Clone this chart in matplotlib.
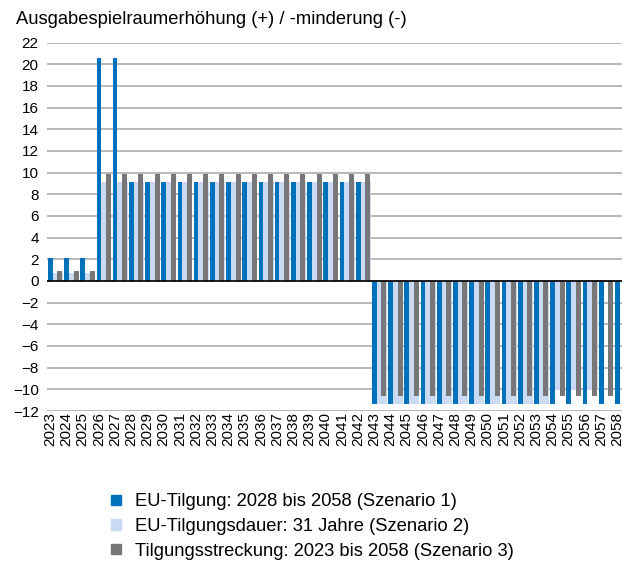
import numpy as np
import matplotlib
matplotlib.use("Agg")
import matplotlib.pyplot as plt
from matplotlib.patches import Patch

plt.rcParams['font.family'] = ['Liberation Sans', 'DejaVu Sans']

# data
years = list(range(2023, 2059))
szenario1 = [2.1] * 3 + [20.6] * 2 + [9.1] * 15 + [-11.4] * 16
szenario2 = [0.7] * 3 + [9.1] * 2 + [9.1] * 15 + [-11.4] * 11 + [-10.1] * 3 + [0.0] * 2
szenario3 = [0.9] * 3 + [9.9] * 2 + [9.9] * 15 + [-10.6] * 16
labels = ['EU-Tilgung: 2028 bis 2058 (Szenario 1)',
          'EU-Tilgungsdauer: 31 Jahre (Szenario 2)',
          'Tilgungsstreckung: 2023 bis 2058 (Szenario 3)']
colors = ['#0072BB', '#CBDAF3', '#777777']

fig = plt.figure(figsize=(6.22, 5.61), dpi=100)
ax = fig.add_axes([47 / 622, (561 - 411) / 561, 575 / 622, (411 - 42.5) / 561])

x = np.arange(len(years))

# gridlines
for t in range(-12, 23, 2):
    ax.axhline(t, color='#A6A6A6', lw=1.1, zorder=0)

# light blue sits behind, a bit wider than the others
ax.bar(x + 0.15, szenario2, width=0.63, align='edge', color=colors[1], zorder=1)
ax.bar(x - 0.14, szenario1, width=0.29, align='edge', color=colors[0], zorder=2)
ax.bar(x + 0.44, szenario3, width=0.31, align='edge', color=colors[2], zorder=2)
ax.axhline(0, color='black', lw=1.2, zorder=3)

ax.set_xlim(-0.2, 35.29)
ax.set_ylim(-12, 22)
ax.set_yticks(range(-12, 23, 2))
ax.set_xticks(x)
ax.set_xticklabels([str(y) for y in years], rotation=90)
ax.tick_params(axis='both', length=0, labelsize=11, colors='black')
ax.tick_params(axis='x', pad=1)
ax.tick_params(axis='y', pad=6)
for s in ax.spines.values():
    s.set_visible(False)

fig.text(16 / 622, 1 - 20 / 561, 'Ausgabespielraumerhöhung (+) / -minderung (-)',
         fontsize=13.2, va='center', ha='left')

handles = [Patch(color=c) for c in colors]
fig.legend(handles, labels, loc='upper left', bbox_to_anchor=(104 / 622, 1 - 486 / 561),
           frameon=False, fontsize=13.2, handlelength=0.5, handleheight=0.5,
           handletextpad=0.8, labelspacing=0.42, borderaxespad=0)

fig.savefig('out.png', dpi=100)
